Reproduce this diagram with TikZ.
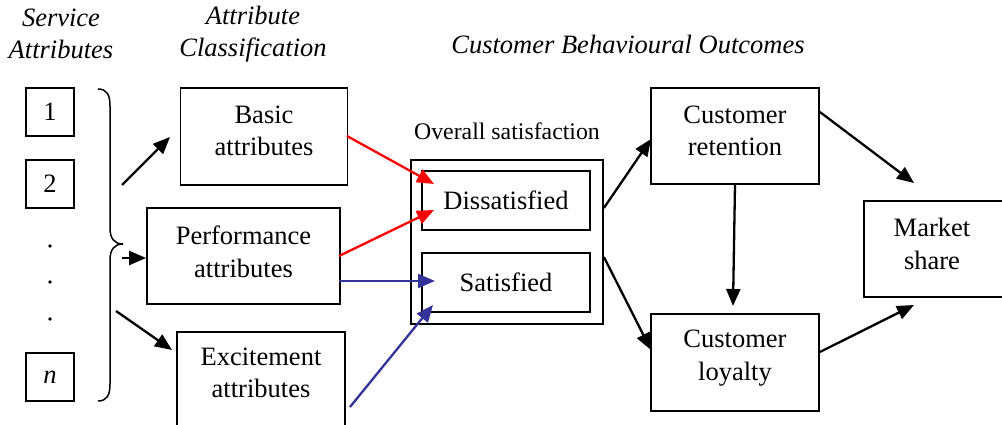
\documentclass[tikz,border=0pt]{standalone}
\usepackage{fontspec}
\setmainfont{Liberation Serif}
\usetikzlibrary{arrows.meta}
\definecolor{myred}{RGB}{255,0,0}
\definecolor{myblue}{RGB}{51,51,153}
\tikzset{
  box/.style={draw=black, line width=1.8pt, rectangle, inner sep=0pt},
  txt/.style={align=center, font=\fontsize{26.5}{32.5}\selectfont, inner sep=0pt},
  hdr/.style={align=center, font=\fontsize{26.5}{32}\selectfont\itshape, inner sep=0pt},
  arr/.style={line width=2.3pt, -{Triangle[length=17pt,width=14pt]}},
  redarr/.style={arr, draw=myred, color=myred},
  bluearr/.style={arr, draw=myblue, color=myblue},
}
\begin{document}
\begin{tikzpicture}[x=1pt,y=-1pt]
\useasboundingbox (0,0) rectangle (1002,425);
\clip (0,0) rectangle (1002,425);
% headers
\node[hdr] (h1) at (61,34) {Service\\Attributes};
\node[hdr] (h2) at (253,34) {Attribute\\Classification};
\node[hdr] (h3) at (628,44) {Customer Behavioural Outcomes};
% small boxes
\node[box, minimum width=48pt, minimum height=48pt, txt] (s1) at (50,112) {1};
\node[box, minimum width=48pt, minimum height=48pt, txt] (s2) at (50,184) {2};
\node[box, minimum width=48pt, minimum height=48pt, txt] (sn) at (50,377) {\itshape n};
\fill (50,246) circle (1.8pt) (50,282) circle (1.8pt) (50,319) circle (1.8pt);
% brace
\draw[line width=1.5pt] (98,89) .. controls (107,89) and (110,95) .. (110,106) -- (110,228) .. controls (110,238) and (114,244) .. (123,244)
  .. controls (114,244) and (110,250) .. (110,260) -- (110,384) .. controls (110,395) and (107,401) .. (98,401);
\coordinate (b1) at (122,185);
\coordinate (b2) at (122,258);
\coordinate (b3) at (116,311);
% classification boxes
\node[box, minimum width=167pt, minimum height=97pt] (basic) at (264,136.5) {};
\node[txt] at (264,131) {Basic\\attributes};
\node[box, minimum width=193pt, minimum height=96pt] (perf) at (243.5,256) {};
\node[txt] at (243.5,252) {Performance\\attributes};
\node[box, minimum width=168pt, minimum height=130pt, anchor=north] (exc) at (261,331) {};
\node[txt] at (261,373) {Excitement\\attributes};
\draw[arr] (b1) -- (170,137);
\draw[arr] (b2) -- (perf.west |- b2);
\draw[arr] (b3) -- (172,350);
% satisfaction
\node[box, minimum width=192pt, minimum height=164pt] (outer) at (507,242) {};
\node[font=\fontsize{23.8}{28}\selectfont, inner sep=0pt] (ovl) at (507,131) {Overall satisfaction};
\node[box, minimum width=168pt, minimum height=59pt, txt] (dis) at (506,200.5) {Dissatisfied};
\node[box, minimum width=168pt, minimum height=59pt, txt] (sat) at (506,282.5) {Satisfied};
\coordinate (r1) at (347,136);
\coordinate (r2) at (339,256);
\coordinate (u1) at (339,281);
\coordinate (u2) at (350,407);
\draw[redarr] (r1) -- (434,184);
\draw[redarr] (r2) -- (434,210);
\draw[bluearr] (u1) -- (435,281);
\draw[bluearr] (u2) -- (433,305);
% outcomes
\node[box, minimum width=168pt, minimum height=96pt] (ret) at (735,136) {};
\node[txt] at (735,131) {Customer\\retention};
\node[box, minimum width=168pt, minimum height=97pt] (loy) at (735,362.5) {};
\node[txt] at (735,358) {Customer\\loyalty};
\node[box, minimum width=139pt, minimum height=96pt, anchor=west] (mkt) at (863,249) {};
\node[txt] at (932,244) {Market\\share};
\draw[arr] (outer.east |- 0,208) -- (651,139);
\draw[arr] (outer.east |- 0,257) -- (651,350);
\draw[arr] (ret.south) -- (733,306);
\draw[arr] (ret.east |- 0,112) -- (914,183);
\draw[arr] (loy.east |- 0,352) -- (914,305);
\end{tikzpicture}
\end{document}
